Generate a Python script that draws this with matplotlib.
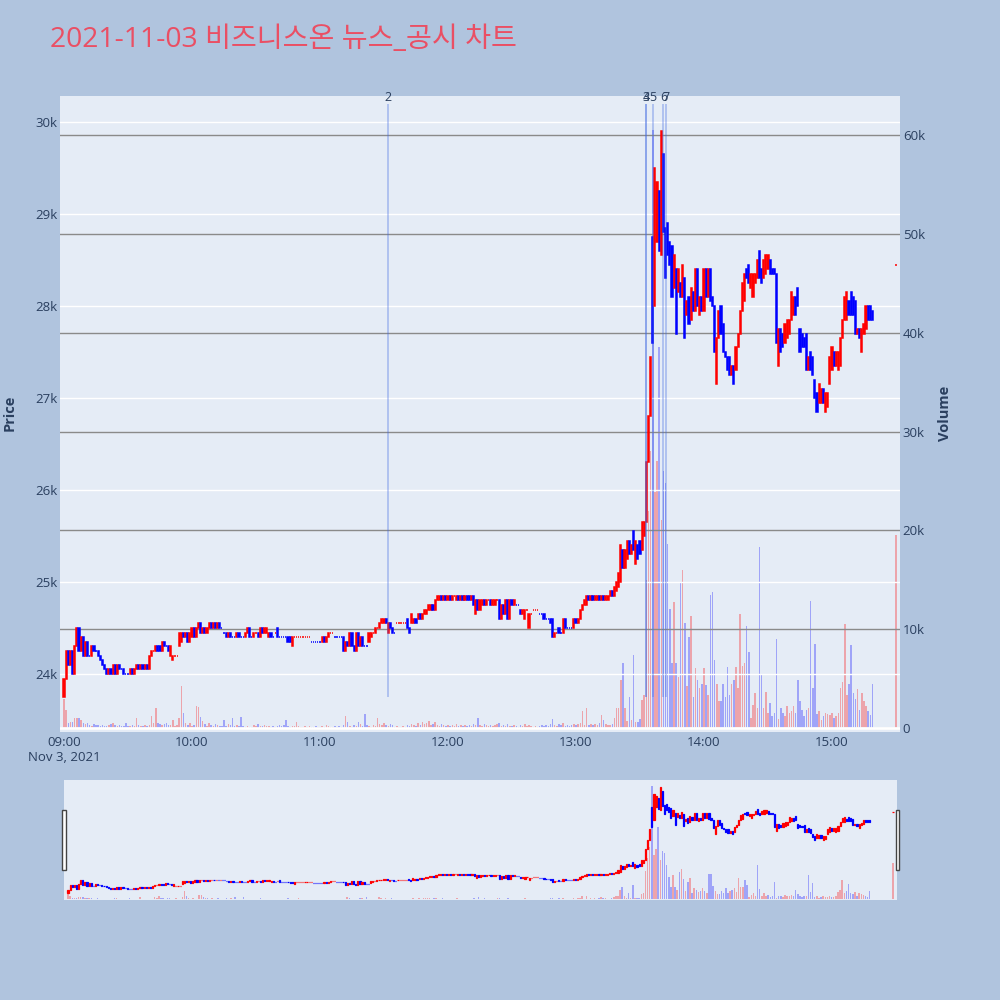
import numpy as np
import pandas as pd
import matplotlib
matplotlib.use("Agg")
import matplotlib.pyplot as plt
import matplotlib.dates as mdates
from matplotlib.patches import Rectangle

plt.rcParams['font.family'] = ['Open Sans', 'Noto Sans CJK KR', 'DejaVu Sans']

title = "2021-11-03 비즈니스온 뉴스_공시 차트"
day = "2021-11-03"

# 1-minute candles, 09:00 .. 15:19
opens = [
    23750, 23950, 24250, 24100, 24250, 24000, 24300, 24500, 24250, 24400,  # 09:00
    24200, 24350, 24200, 24200, 24300, 24250, 24250, 24200, 24150, 24100,
    24050, 24000, 24050, 24000, 24100, 24000, 24100, 24050, 24050, 24000,
    24000, 24000, 24050, 24000, 24050, 24100, 24050, 24100, 24050, 24100,
    24050, 24200, 24250, 24250, 24300, 24300, 24250, 24350, 24300, 24300,
    24200, 24150, 24200, 24200, 24300, 24350, 24450, 24400, 24450, 24350,
    24400, 24500, 24400, 24500, 24550, 24450, 24500, 24450, 24500, 24550,  # 10:00
    24500, 24550, 24500, 24550, 24500, 24450, 24450, 24400, 24450, 24400,
    24400, 24400, 24450, 24400, 24400, 24400, 24450, 24500, 24400, 24400,
    24450, 24450, 24400, 24500, 24450, 24450, 24400, 24450, 24400, 24450,
    24500, 24400, 24400, 24400, 24400, 24400, 24400, 24300, 24400, 24400,
    24400, 24400, 24400, 24400, 24400, 24400, 24350, 24350, 24350, 24350,
    24350, 24350, 24400, 24350, 24400, 24450, 24450, 24400, 24400, 24400,  # 11:00
    24400, 24400, 24250, 24350, 24300, 24450, 24300, 24250, 24450, 24300,
    24400, 24300, 24300, 24350, 24400, 24450, 24450, 24500, 24500, 24550,
    24550, 24600, 24450, 24550, 24500, 24450, 24550, 24550, 24550, 24550,
    24550, 24600, 24500, 24550, 24550, 24600, 24600, 24650, 24600, 24650,
    24650, 24700, 24700, 24750, 24700, 24800, 24800, 24850, 24800, 24850,
    24800, 24850, 24800, 24850, 24800, 24850, 24800, 24850, 24800, 24850,  # 12:00
    24850, 24800, 24850, 24650, 24800, 24700, 24750, 24800, 24750, 24800,
    24800, 24750, 24750, 24800, 24800, 24600, 24750, 24650, 24800, 24600,
    24800, 24750, 24750, 24750, 24700, 24650, 24600, 24700, 24500, 24650,
    24700, 24700, 24700, 24650, 24650, 24650, 24600, 24600, 24600, 24600,
    24400, 24450, 24500, 24450, 24450, 24600, 24500, 24500, 24500, 24500,
    24600, 24550, 24600, 24700, 24750, 24750, 24850, 24800, 24850, 24800,  # 13:00
    24800, 24850, 24800, 24850, 24800, 24800, 24850, 24900, 24850, 24900,
    24950, 25000, 25350, 25150, 25250, 25450, 25300, 25550, 25200, 25400,
    25450, 25350, 25500, 25650, 26300, 26800, 28750, 28000, 28700, 29250,
    28550, 29650, 28850, 28900, 28700, 28650, 28200, 28400, 28150, 28250,
    28100, 28300, 27900, 28100, 27850, 28150, 27950, 28400, 27900, 28100,
    27950, 28400, 28100, 28400, 28100, 28000, 27150, 27650, 28000, 27800,  # 14:00
    27500, 27450, 27450, 27250, 27350, 27300, 27550, 27700, 27950, 28050,
    28400, 28450, 28200, 28100, 28250, 28300, 28600, 28400, 28300, 28350,
    28400, 28500, 28400, 28400, 28350, 27350, 27750, 27700, 27600, 27650,
    27700, 27850, 27900, 28100, 28200, 27750, 27700, 27650, 27700, 27300,
    27500, 27450, 27200, 27050, 26950, 26950, 27100, 26850, 26900, 27150,
    27300, 27500, 27350, 27300, 27350, 27650, 27850, 27850, 28050, 28150,  # 15:00
    28100, 28050, 27700, 27750, 27500, 27700, 27750, 28000, 28000, 27950,
]

closes = [
    23950, 24250, 24100, 24250, 24000, 24300, 24500, 24250, 24400, 24200,
    24350, 24200, 24200, 24300, 24250, 24250, 24200, 24150, 24100, 24050,
    24000, 24050, 24000, 24100, 24000, 24100, 24050, 24050, 24000, 24000,
    24000, 24050, 24000, 24050, 24100, 24050, 24100, 24050, 24100, 24050,
    24200, 24250, 24250, 24300, 24250, 24250, 24350, 24300, 24300, 24250,
    24300, 24200, 24200, 24200, 24450, 24450, 24400, 24450, 24350, 24450,
    24500, 24400, 24500, 24550, 24450, 24500, 24450, 24500, 24550, 24500,
    24550, 24500, 24550, 24500, 24500, 24450, 24400, 24450, 24400, 24400,
    24400, 24450, 24400, 24400, 24400, 24450, 24500, 24400, 24400, 24450,
    24450, 24400, 24500, 24450, 24500, 24500, 24450, 24400, 24400, 24450,
    24400, 24400, 24400, 24400, 24400, 24350, 24350, 24400, 24400, 24400,
    24400, 24400, 24400, 24400, 24400, 24400, 24350, 24350, 24350, 24350,
    24350, 24400, 24350, 24400, 24450, 24450, 24450, 24400, 24400, 24400,
    24400, 24250, 24350, 24300, 24450, 24300, 24250, 24450, 24300, 24400,
    24300, 24300, 24300, 24450, 24450, 24450, 24500, 24500, 24550, 24600,
    24600, 24550, 24550, 24500, 24450, 24450, 24550, 24550, 24550, 24550,
    24550, 24500, 24450, 24650, 24600, 24550, 24650, 24600, 24650, 24700,
    24700, 24750, 24750, 24700, 24800, 24850, 24850, 24800, 24850, 24800,
    24850, 24800, 24850, 24850, 24850, 24800, 24850, 24800, 24850, 24800,
    24800, 24850, 24750, 24800, 24700, 24800, 24800, 24750, 24800, 24800,
    24750, 24800, 24800, 24800, 24600, 24750, 24650, 24800, 24600, 24800,
    24750, 24800, 24750, 24750, 24650, 24700, 24700, 24700, 24650, 24650,
    24700, 24700, 24700, 24650, 24650, 24600, 24600, 24600, 24550, 24400,
    24450, 24450, 24450, 24450, 24600, 24500, 24500, 24500, 24500, 24600,
    24550, 24600, 24700, 24750, 24800, 24850, 24800, 24850, 24800, 24850,
    24850, 24800, 24850, 24800, 24850, 24850, 24900, 24850, 24950, 25000,
    25100, 25400, 25150, 25350, 25450, 25300, 25400, 25350, 25450, 25250,
    25300, 25650, 25650, 26300, 26800, 27450, 27600, 29500, 29350, 28600,
    29900, 28800, 28300, 28550, 28450, 28100, 28550, 27700, 28400, 28100,
    28450, 27650, 28050, 27800, 28200, 27950, 28400, 28000, 28100, 27950,
    28400, 28100, 28400, 28050, 28000, 27500, 27650, 27950, 27700, 27500,
    27450, 27300, 27250, 27350, 27150, 27550, 27700, 27950, 28250, 28350,
    28300, 28250, 28350, 28350, 28350, 28500, 28300, 28250, 28500, 28550,
    28550, 28350, 28350, 28350, 27600, 27750, 27500, 27550, 27800, 27850,
    27850, 28150, 28100, 27900, 28000, 27500, 27550, 27550, 27300, 27450,
    27300, 27250, 27000, 26850, 27150, 27100, 26950, 27050, 27050, 27450,
    27550, 27350, 27500, 27500, 27650, 27850, 28100, 28150, 27900, 27900,
    27900, 27700, 27750, 27650, 27750, 27800, 28000, 27850, 27850, 27850,
]

volumes = [
    2900, 1800, 500, 600, 600, 1000, 1000, 1000, 800, 500,
    400, 500, 300, 200, 400, 300, 300, 200, 300, 200,
    200, 300, 400, 500, 300, 200, 300, 200, 200, 500,
    200, 200, 300, 200, 1000, 300, 200, 200, 300, 200,
    300, 1200, 500, 2000, 500, 400, 300, 400, 500, 300,
    300, 800, 200, 300, 1000, 4200, 1500, 500, 300, 500,
    200, 300, 2200, 2100, 1100, 700, 400, 200, 500, 300,
    200, 400, 300, 200, 200, 800, 200, 400, 300, 1000,
    200, 300, 200, 1100, 200, 100, 200, 100, 100, 300,
    200, 400, 200, 200, 300, 200, 200, 100, 200, 100,
    200, 300, 200, 300, 800, 200, 100, 200, 200, 600,
    200, 100, 100, 200, 100, 200, 100, 100, 200, 100,
    100, 200, 100, 300, 200, 100, 100, 200, 100, 200,
    100, 300, 1200, 600, 200, 100, 300, 200, 600, 400,
    200, 1400, 300, 200, 100, 300, 200, 1000, 400, 300,
    500, 300, 200, 400, 300, 100, 200, 100, 100, 200,
    100, 300, 200, 400, 300, 200, 500, 300, 600, 400,
    500, 700, 300, 400, 600, 300, 200, 400, 300, 200,
    300, 200, 300, 200, 400, 200, 300, 200, 300, 200,
    300, 200, 400, 300, 1000, 300, 200, 400, 300, 200,
    300, 200, 300, 400, 500, 200, 300, 200, 400, 200,
    200, 300, 200, 100, 300, 200, 400, 200, 300, 200,
    100, 200, 100, 200, 300, 200, 300, 200, 400, 900,
    300, 200, 400, 300, 500, 200, 300, 200, 300, 400,
    300, 400, 500, 1700, 300, 2000, 300, 400, 300, 400,
    300, 500, 1300, 800, 400, 300, 300, 400, 1000, 2000,
    2000, 4900, 6600, 2000, 700, 3100, 800, 7400, 600, 600,
    900, 2800, 3300, 15000, 22000, 28000, 60500, 23900, 27000, 38600,
    21000, 26000, 24800, 18600, 12000, 6600, 12800, 6600, 5200, 14700,
    16000, 10600, 4200, 9200, 11300, 3100, 6100, 4900, 4000, 4500,
    6100, 4400, 3300, 13500, 13800, 6900, 4500, 2700, 2700, 4500,
    3100, 6200, 3300, 4500, 4900, 6200, 4000, 11500, 6300, 6600,
    10300, 7700, 1000, 2300, 3500, 2000, 18300, 5500, 2000, 3600,
    1500, 2500, 1200, 1500, 9000, 900, 2000, 1500, 1200, 2200,
    1500, 1700, 2200, 1500, 4900, 2700, 1800, 1200, 1800, 2000,
    12900, 4000, 8500, 1400, 1700, 800, 1200, 1500, 1400, 1300,
    1500, 1000, 1200, 1500, 4000, 4700, 10500, 3300, 4500, 8400,
    3500, 2900, 3900, 1800, 3500, 2700, 2200, 1700, 1300, 4500,
]

# closing auction
auction_time = "15:30"
auction_price = 28450
auction_volume = 19500

# news markers
news_times = ["11:32", "13:33", "13:33", "13:36", "13:41", "13:42"]
news_labels = ["2", "3", "4", "5", "6", "7"]
news_lo, news_hi = 23750, 30200

price_ticks = [24000, 25000, 26000, 27000, 28000, 29000, 30000]
vol_ticks = [0, 10000, 20000, 30000, 40000, 50000, 60000]
hour_ticks = ["09:00", "10:00", "11:00", "12:00", "13:00", "14:00", "15:00"]

price_lim = (23370, 30283)
vol_lim = (-406, 63960)

BG = "#b0c4de"
PLOT_BG = "#e5ecf6"
TXT = "#2a3f5f"

# ---- build series
times = list(pd.date_range(day + " 09:00", periods=len(closes), freq="min"))
times.append(pd.Timestamp(day + " " + auction_time))
x = mdates.date2num(times)
o = np.array(opens + [auction_price], dtype=float)
c = np.array(closes + [auction_price], dtype=float)
v = np.array(volumes + [auction_volume], dtype=float)

# candle direction (equal open/close -> compare with previous close)
dirs = []
prev_c, prev_d = None, 1
for oo, cc in zip(o, c):
    if cc > oo:
        d = 1
    elif cc < oo:
        d = -1
    elif prev_c is not None and cc > prev_c:
        d = 1
    elif prev_c is not None and cc < prev_c:
        d = -1
    else:
        d = prev_d
    dirs.append(d)
    prev_c, prev_d = cc, d
dirs = np.array(dirs)
cols = np.where(dirs > 0, "red", "blue")

one_min = 1 / 1440
t0 = mdates.date2num(pd.Timestamp(day + " 09:00"))
xlim = (t0 - 1.9 * one_min, t0 + 391.9 * one_min)


def draw(ax_p, ax_v, lw):
    ax_v.bar(x, v, width=0.7 * one_min, color=cols, alpha=0.3, linewidth=0)
    ax_p.bar(x, np.abs(c - o), bottom=np.minimum(o, c), width=0.55 * one_min,
             color=cols, edgecolor=cols, linewidth=lw, zorder=3)
    ax_p.set_xlim(*xlim)
    ax_p.set_ylim(*price_lim)
    ax_v.set_ylim(*vol_lim)
    for a in (ax_p, ax_v):
        for s in a.spines.values():
            s.set_visible(False)
    ax_v.set_zorder(ax_p.get_zorder() - 1)
    ax_p.patch.set_visible(False)
    ax_v.patch.set_visible(True)
    ax_v.patch.set_facecolor(PLOT_BG)


fig = plt.figure(figsize=(10, 10), dpi=100)
fig.patch.set_facecolor(BG)

# ---- main chart
ax = fig.add_axes([0.06, 0.268, 0.84, 0.636])
axv = ax.twinx()
draw(ax, axv, 1.1)

ax.set_yticks(price_ticks)
ax.set_yticklabels([f"{p // 1000}k" for p in price_ticks])
ax.grid(axis="y", color="white", linewidth=1)
ax.set_axisbelow(True)
axv.set_yticks(vol_ticks)
axv.set_yticklabels(["0"] + [f"{t // 1000}k" for t in vol_ticks[1:]])
axv.grid(axis="y", color="#8a8a8a", linewidth=1)
axv.axhline(0, color="white", linewidth=2)

hour_x = [mdates.date2num(pd.Timestamp(day + " " + h)) for h in hour_ticks]
ax.set_xticks(hour_x)
ax.set_xticklabels(hour_ticks)
ax.tick_params(axis="x", length=0, pad=3, labelsize=9.5, labelcolor=TXT)
ax.tick_params(axis="y", length=0, pad=2, labelsize=9.5, labelcolor=TXT)
axv.tick_params(axis="y", length=0, pad=2, labelsize=9.5, labelcolor=TXT)
ax.text(hour_x[0], -0.040, "Nov 3, 2021", transform=ax.get_xaxis_transform(),
        ha="center", va="center", fontsize=9.5, color=TXT)

# news lines
for t, lab in zip(news_times, news_labels):
    xn = mdates.date2num(pd.Timestamp(day + " " + t))
    ax.vlines(xn, news_lo, news_hi, color="royalblue", alpha=0.35, linewidth=1.3, zorder=4)
    ax.text(xn, news_hi, lab, ha="center", va="bottom", fontsize=9, color=TXT)

fig.text(0.010, 0.587, "Price", rotation=90, ha="center", va="center",
         fontsize=10.5, fontweight="bold", color=TXT)
fig.text(0.945, 0.587, "Volume", rotation=90, ha="center", va="center",
         fontsize=10.5, fontweight="bold", color=TXT)
fig.text(0.05, 0.96, title, ha="left", va="center", fontsize=20.3, color="#ea4f64")

# ---- range slider
axs = fig.add_axes([0.064, 0.10, 0.833, 0.12])
axsv = axs.twinx()
draw(axs, axsv, 0.9)
for a in (axs, axsv):
    a.set_xticks([])
    a.set_yticks([])

for hx in (0.0617, 0.8956):
    fig.add_artist(Rectangle((hx, 0.13), 0.0038, 0.06, transform=fig.transFigure,
                             facecolor="white", edgecolor="#444444", linewidth=1))

fig.savefig("out.png", dpi=100, facecolor=BG)
